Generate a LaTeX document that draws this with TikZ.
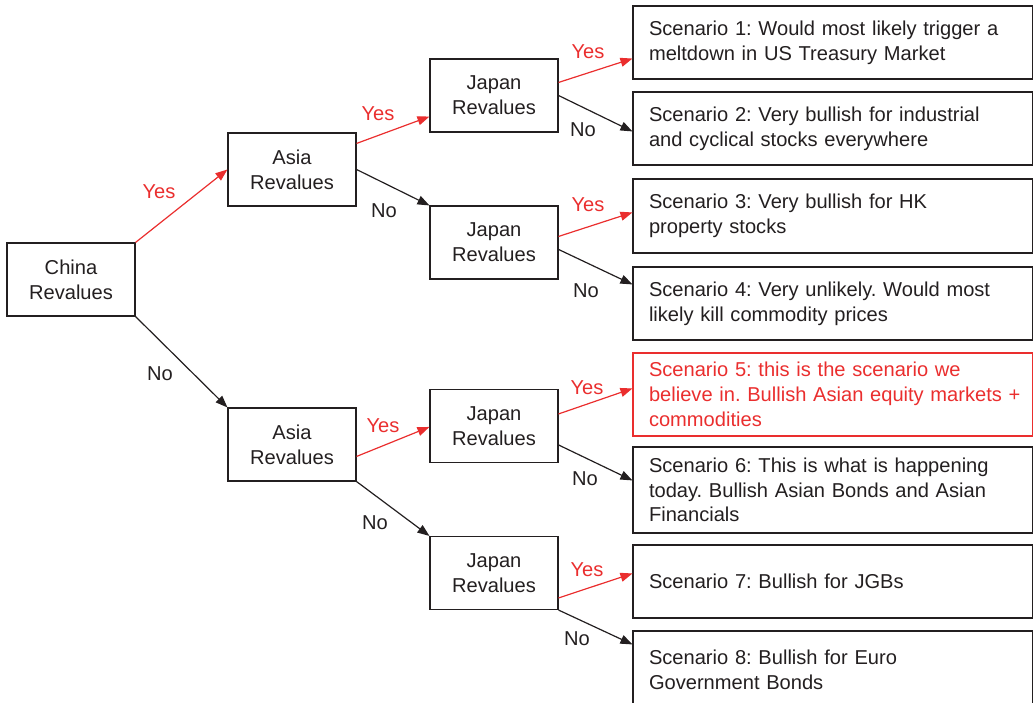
\documentclass[tikz,border=0pt]{standalone}
\usepackage{fontspec}
\setmainfont{Liberation Sans}
\usetikzlibrary{arrows.meta}
\definecolor{ared}{RGB}{234,46,46}
\definecolor{ink}{RGB}{35,31,32}
\hbadness=10000 \hfuzz=50pt
\tikzset{
  every node/.style={font=\fontsize{20.1}{24.8}\selectfont\frenchspacing, text=ink},
  dbox/.style={draw=ink, line width=1.1pt, minimum width=128pt, minimum height=73pt, inner sep=0pt, align=center},
  sbox/.style={draw=ink, line width=1.1pt, minimum width=400pt, text width=368pt, inner xsep=16pt, inner ysep=0pt, align=left},
  yesline/.style={draw=ared, line width=1.2pt, -{Triangle[length=12pt,width=9pt]}},
  noline/.style={draw=ink, line width=1.2pt, -{Triangle[length=12pt,width=9pt]}},
  yeslbl/.style={text=ared, inner sep=0pt},
  nolbl/.style={text=ink, inner sep=0pt}
}
\begin{document}
\begin{tikzpicture}[x=1pt,y=-1pt]
\useasboundingbox (0,0) rectangle (1033,703);
% decision boxes
\node[dbox] (china) at (71,279.5) {China\\Revalues};
\node[dbox] (a1) at (292,169.5) {Asia\\Revalues};
\node[dbox] (a2) at (292,444.5) {Asia\\Revalues};
\node[dbox] (j1) at (494,95.5) {Japan\\Revalues};
\node[dbox] (j2) at (494,242.5) {Japan\\Revalues};
\node[dbox] (j3) at (494,426) {Japan\\Revalues};
\node[dbox] (j4) at (494,573) {Japan\\Revalues};
% scenario boxes
\node[sbox, minimum height=73pt] (s1) at (833,42.5) {\mbox{Scenario 1: Would most likely trigger a}\\meltdown in US Treasury Market};
\node[sbox, minimum height=73pt] (s2) at (833,128.5) {\mbox{Scenario 2: Very bullish for industrial}\\and cyclical stocks everywhere};
\node[sbox, minimum height=74pt] (s3) at (833,216) {Scenario 3: Very bullish for HK\\property stocks};
\node[sbox, minimum height=73pt] (s4) at (833,303.5) {\mbox{Scenario 4: Very unlikely. Would most}\\likely kill commodity prices};
\node[sbox, draw=ared, text=ared, minimum height=83pt] (s5) at (833,394.5) {Scenario 5: this is the scenario we\\\mbox{believe in. Bullish Asian equity markets +}\\commodities};
\node[sbox, minimum height=86pt] (s6) at (833,490) {\mbox{Scenario 6: This is what is happening}\\\mbox{today. Bullish Asian Bonds and Asian}\\Financials};
\node[sbox, minimum height=73pt] (s7) at (833,581.5) {Scenario 7: Bullish for JGBs};
\node[sbox, minimum height=78pt] (s8) at (833,670) {Scenario 8: Bullish for Euro\\Government Bonds};
% connectors
\draw[yesline] (china.north east) -- (a1.west);
\draw[noline] (china.south east) -- (a2.north west);
\draw[yesline] ([yshift=-11pt]a1.north east) -- ([yshift=16pt]j1.south west);
\draw[noline] (a1.east) -- (j2.north west);
\draw[yesline] ([yshift=-24pt]j1.north east) -- ([yshift=21pt]s1.south west);
\draw[noline] (j1.east) -- ([yshift=-40pt]s2.north west);
\draw[yesline] ([yshift=-31pt]j2.north east) -- ([yshift=-34pt]s3.north west);
\draw[noline] ([yshift=-44pt]j2.north east) -- ([yshift=-18pt]s4.north west);
\draw[yesline] ([yshift=-49pt]a2.north east) -- ([yshift=-38pt]j3.north west);
\draw[noline] (a2.south east) -- (j4.north west);
\draw[yesline] ([yshift=-25pt]j3.north east) -- ([yshift=-36pt]s5.north west);
\draw[noline] ([yshift=-56pt]j3.north east) -- ([yshift=-34pt]s6.north west);
\draw[yesline] ([yshift=-62pt]j4.north east) -- ([yshift=-29pt]s7.north west);
\draw[noline] (j4.south east) -- ([yshift=-14pt]s8.north west);
% labels
\node[yeslbl] (ly0) at (159,192) {Yes};
\node[nolbl] (ln0) at (160,374) {No};
\node[yeslbl] (ly1) at (378,114) {Yes};
\node[nolbl] (ln1) at (384,211) {No};
\node[yeslbl] (ly2) at (588,52) {Yes};
\node[nolbl] (ln2) at (583,130) {No};
\node[yeslbl] (ly3) at (588,205) {Yes};
\node[nolbl] (ln3) at (586,291) {No};
\node[yeslbl] (ly4) at (383,426) {Yes};
\node[nolbl] (ln4) at (375,523) {No};
\node[yeslbl] (ly5) at (587,388) {Yes};
\node[nolbl] (ln5) at (585,479) {No};
\node[yeslbl] (ly6) at (587,570) {Yes};
\node[nolbl] (ln6) at (577,639) {No};
\end{tikzpicture}
\end{document}
